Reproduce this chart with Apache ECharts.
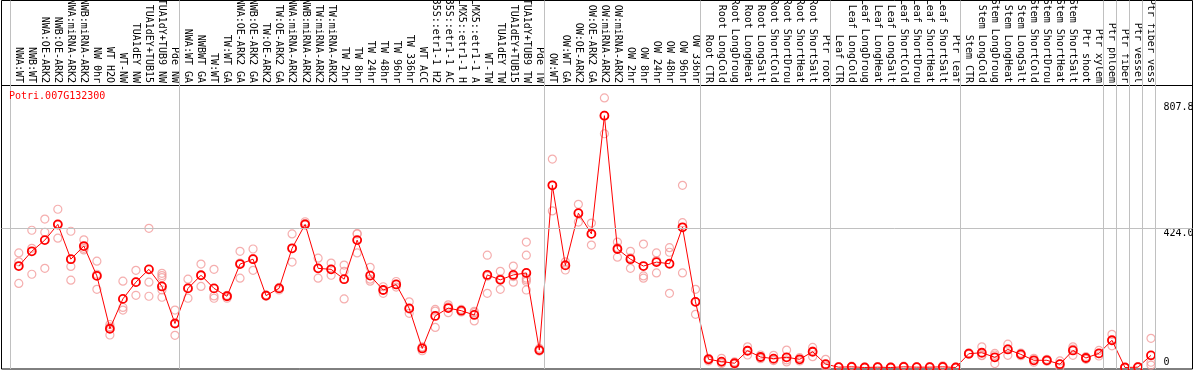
<!DOCTYPE html>
<html><head><meta charset="utf-8">
<script src="https://cdn.jsdelivr.net/npm/echarts@6/dist/echarts.min.js"></script>
<style>html,body{margin:0;padding:0;background:#fff}#c{width:1194px;height:370px}</style>
</head><body><div id="c"></div>
<script>
const chartTitle = 'Potri.007G132300';

const categories = [
  'NWA:WT','NWB:WT','NWA:OE-ARK2','NWB:OE-ARK2','NWA:miRNA-ARK2','NWB:miRNA-ARK2','NW 0hr','WT H2O','WT-NW','TUA1dEY NW','TUA1dEY+TUB15','TUA1dY+TUB9 NW','Pde NW',
  'NWA:WT GA','NWBWT GA','TW:WT','TW:WT GA','NWA:OE-ARK2 GA','NWB:OE-ARK2 GA','TW:OE-ARK2','TW:OE-ARK2 GA','NWA:miRNA-ARK2','NWB:miRNA-ARK2','TW:miRNA-ARK2','TW:miRNA-ARK2','TW 2hr','TW 8hr','TW 24hr','TW 48hr','TW 96hr','TW 336hr','WT ACC','35S::etr1-1 H2','35S::etr1-1 AC','LMX5::etr1-1 H','LMX5::etr1-1 A','WT-TW','TUA1dEY TW','TUA1dEY+TUB15','TUA1dY+TUB9 TW','Pde TW',
  'OW:WT','OW:WT GA','OW:OE-ARK2','OW:OE-ARK2 GA','OW:miRNA-ARK2','OW:miRNA-ARK2','OW 2hr','OW 8hr','OW 24hr','OW 48hr','OW 96hr','OW 336hr',
  'Root CTR','Root LongCold','Root LongDroug','Root LongHeat','Root LongSalt','Root ShortCold','Root ShortDrou','Root ShortHeat','Root ShortSalt','Ptr root',
  'Leaf CTR','Leaf LongCold','Leaf LongDroug','Leaf LongHeat','Leaf LongSalt','Leaf ShortCold','Leaf ShortDrou','Leaf ShortHeat','Leaf ShortSalt','Ptr leaf',
  'Stem CTR','Stem LongCold','Stem LongDroug','Stem LongHeat','Stem LongSalt','Stem ShortCold','Stem ShortDrou','Stem ShortHeat','Stem ShortSalt','Ptr shoot','Ptr xylem',
  'Ptr phloem','Ptr fiber','Ptr vessel','Ptr fiber vess'
];

const means = [
  309,354,388,436,330,370,279,118,209,260,299,247,134,
  241,281,241,217,315,330,219,241,363,436,302,299,269,388,280,236,253,180,58,157,181,173,160,282,267,282,288,53,
  555,311,470,407,767,361,330,309,321,316,427,200,
  25,18,13,51,32,27,31,25,48,10,
  1,2,0,1,0,2,1,1,2,0,
  42,45,31,55,40,22,22,10,52,29,43,
  83,0,1,37
];

const replicates = [
  [349,322,256],[418,363,284],[452,412,302],[482,394,434],[415,308,266],[389,363,358],[324,284,238,280],[131,99,124],[263,183,175],[296,260,220],[424,260,217],[287,280,274,247,236,214],[175,98,134],
  [269,211,243],[315,247,281],[299,218,211],[220,211,218],[354,272,318],[361,296,332],[221,219,217],[244,241,236],[407,321,362],[444,439,434],[333,272,302],[318,281,299],[312,293,209],[407,349,408],[305,269,263],[246,226,236],[262,253,245],[200,165,178],[63,51,60],[177,122,172],[191,167,185],[177,169,173],[171,142,167],[342,226,278],[293,238,270],[309,260,277],[382,342,272,267,262,236],[58,50,51],
  [635,477,555],[322,297,314],[497,443,470],[440,373,408],[821,712,768],[382,336,365],[354,302,334],[376,272,279],[349,288,326],[365,351,226],[555,441,288],[238,162,200],
  [27,20,28],[28,12,15],[17,10,13],[63,38,52],[38,27,31],[37,21,23],[53,17,23],[30,20,24],[61,33,50],[25,0,5],
  [2,0,1],[4,1,1],[1,0,0],[3,0,0],[1,0,0],[4,1,1],[2,0,1],[3,0,0],[5,1,0],[1,0,0],
  [45,40,42],[63,37,36],[38,12,43],[71,37,57],[44,36,40],[28,16,22],[25,19,22],[20,0,10],[63,37,56],[33,25,29],[52,35,42],
  [101,66,82],[0,0,0],[3,0,0],[89,16,7]
];

const groupStarts = [0,13,41,53,63,73,84,85,86,87,88];
const yTickValues = [0, 424.0, 807.8];
const yTickLabels = ['0', '424.0', '807.8'];
const refLineValue = 424.0;

const FONT = '"DejaVu Sans Mono", "Liberation Mono", monospace';
const meanData = means.map((v, i) => [i, v]);
const repData = [];
replicates.forEach((arr, i) => arr.forEach(v => repData.push([i, v])));

const yMin = -4.57, yMax = 1117.9;
const xMin = -1.329, xMax = 90.19;
const labelFor = v => yTickLabels[yTickValues.indexOf(v)];

const yBase = {
  type: 'value', min: yMin, max: yMax, position: 'right',
  axisLine: {show: false}, axisTick: {show: false}, splitLine: {show: false}
};

const chart = echarts.init(document.getElementById('c'), null, {renderer: 'canvas'});
chart.setOption({
  animation: false,
  backgroundColor: '#fff',
  title: {
    text: chartTitle, left: 9, top: 91, padding: 0,
    textStyle: {color: '#ff0000', fontFamily: FONT, fontSize: 10, fontWeight: 'normal'}
  },
  grid: {
    left: 1.5, right: 1.5, top: 0.5, bottom: 1, show: true,
    borderColor: '#000', borderWidth: 1, backgroundColor: 'transparent',
    containLabel: false, outerBoundsMode: 'none'
  },
  xAxis: {
    type: 'value', min: xMin, max: xMax, position: 'top', offset: -84.5,
    axisLine: {show: true, onZero: false, lineStyle: {color: '#000', width: 1}},
    axisTick: {show: false}, splitLine: {show: false},
    axisLabel: {
      customValues: categories.map((_, i) => i), rotate: 90, margin: 2,
      hideOverlap: false, showMinLabel: true, showMaxLabel: true,
      formatter: v => categories[Math.round(v)] || '',
      color: '#000', fontFamily: FONT, fontSize: 10
    }
  },
  yAxis: [
    Object.assign({}, yBase, {
      axisLabel: {
        customValues: yTickValues.filter(v => v !== 0), inside: true, align: 'left',
        verticalAlign: 'top', margin: 29, formatter: labelFor,
        color: '#000', fontFamily: FONT, fontSize: 10
      }
    }),
    Object.assign({}, yBase, {
      axisLabel: {
        customValues: yTickValues.filter(v => v === 0), inside: true, align: 'left',
        verticalAlign: 'bottom', margin: 29, formatter: labelFor,
        color: '#000', fontFamily: FONT, fontSize: 10
      }
    })
  ],
  series: [
    {
      type: 'scatter', data: repData, yAxisIndex: 0, symbol: 'circle', symbolSize: 8,
      itemStyle: {color: 'rgba(0,0,0,0)', borderColor: '#f29a9a', borderWidth: 1.2},
      emphasis: {disabled: true}, silent: true, z: 2,
      markLine: {
        silent: true, symbol: 'none', animation: false, label: {show: false},
        emphasis: {disabled: true},
        lineStyle: {color: '#c0c0c0', width: 1, type: 'solid'},
        data: groupStarts.map(g => ({xAxis: g - 0.645})).concat([{yAxis: refLineValue}])
      }
    },
    {
      type: 'line', data: meanData, yAxisIndex: 0, symbol: 'circle', symbolSize: 8,
      showSymbol: true, showAllSymbol: true,
      lineStyle: {color: '#ff0000', width: 1},
      itemStyle: {color: 'rgba(0,0,0,0)', borderColor: '#ff0000', borderWidth: 1.8},
      emphasis: {disabled: true}, silent: true, z: 3
    }
  ]
});
</script>
</body></html>
